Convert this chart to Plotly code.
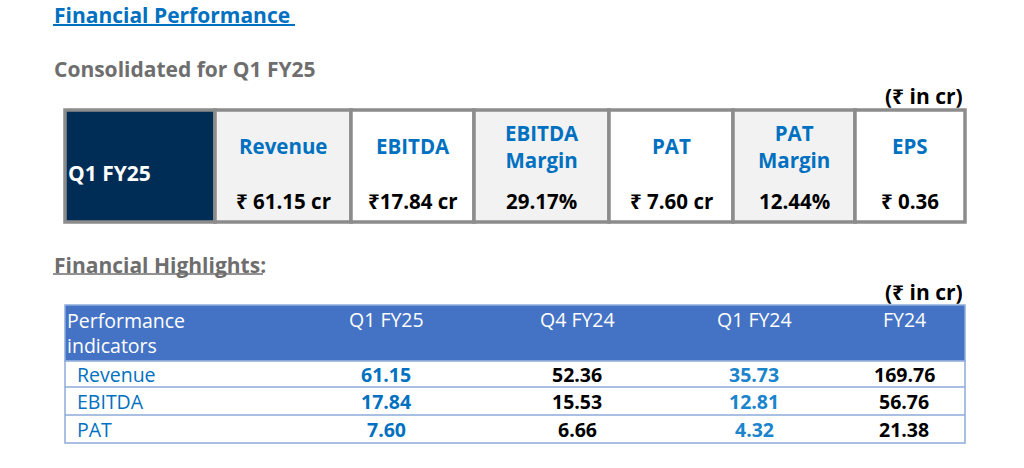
import plotly.graph_objects as go

# ---------------- data ----------------
kpi_period = "Q1 FY25"
kpi_headers = ["Revenue", "EBITDA", "EBITDA<br>Margin", "PAT", "PAT<br>Margin", "EPS"]
kpi_values = [61.15, 17.84, 29.17, 7.60, 12.44, 0.36]
kpi_formats = ["₹ {:.2f} cr", "₹{:.2f} cr", "{:.2f}%", "₹ {:.2f} cr", "{:.2f}%", "₹ {:.2f}"]

hl_columns = ["Q1 FY25", "Q4 FY24", "Q1 FY24", "FY24"]
hl_rows = ["Revenue", "EBITDA", "PAT"]
hl_q1fy25 = [61.15, 17.84, 7.60]
hl_q4fy24 = [52.36, 15.53, 6.66]
hl_q1fy24 = [35.73, 12.81, 4.32]
hl_fy24 = [169.76, 56.76, 21.38]

# ---------------- layout config ----------------
W, H = 1024, 468
FONT = "'Open Sans', 'Noto Sans', 'DejaVu Sans', sans-serif"
BLUE = "#0070C0"
GREY_TXT = "#6E6E6E"
NAVY = "#002D56"
CELL_GREY = "#F2F2F2"
BORDER = "#8C8C8C"
HDR_BLUE = "#4472C4"
LINE_BLUE = "#8EAADB"

top_edges = [65, 215, 351, 474, 609, 733, 855, 965]
top_y0, top_y1 = 110, 222
top_fills = [CELL_GREY, "white", CELL_GREY, "white", CELL_GREY, "white"]

hl_label_x = 66
hl_col_centers = [386, 577, 754, 904]
hl_x0, hl_x1 = 65, 965
hl_hdr_y0, hl_hdr_y1 = 305, 361
hl_row_edges = [361, 387, 415, 443]
hl_val_colors = [BLUE, "black", "#1A84CC", "black"]

shapes = []
ann = []

def text(x, y, s, size, color, bold=False, xanchor="center", yanchor="middle", align="center"):
    ann.append(dict(x=x, y=y, xref="x", yref="y", text=(f"<b>{s}</b>" if bold else s),
                    showarrow=False, xanchor=xanchor, yanchor=yanchor, align=align,
                    font=dict(family=FONT, size=size, color=color)))

# ---- titles ----
text(52, 15, "Financial Performance", 21, BLUE, bold=True, xanchor="left")
shapes.append(dict(type="line", x0=53, x1=295, y0=25, y1=25, line=dict(color=BLUE, width=2)))
text(52, 69, "Consolidated for Q1 FY25", 21, GREY_TXT, bold=True, xanchor="left")
text(965, 96, "(₹ in cr)", 21, "black", bold=True, xanchor="right")

# ---- KPI table ----
shapes.append(dict(type="rect", x0=top_edges[0], x1=top_edges[1], y0=top_y0, y1=top_y1,
                   fillcolor=NAVY, line=dict(color=BORDER, width=3.5), layer="below"))
text(top_edges[0] + 1, 173, kpi_period, 21, "white", bold=True, xanchor="left")
for i, (hd, v, fmt) in enumerate(zip(kpi_headers, kpi_values, kpi_formats)):
    x0, x1 = top_edges[i + 1], top_edges[i + 2]
    shapes.append(dict(type="rect", x0=x0, x1=x1, y0=top_y0, y1=top_y1,
                       fillcolor=top_fills[i], line=dict(color=BORDER, width=3.5), layer="below"))
    cx = (x0 + x1) / 2
    text(cx, 146, hd, 20.5, BLUE, bold=True)
    text(cx, 201, fmt.format(v), 20.5, "black", bold=True)

# ---- highlights ----
text(52, 265, "Financial Highlights:", 21, GREY_TXT, bold=True, xanchor="left")
shapes.append(dict(type="line", x0=53, x1=263, y0=274, y1=274, line=dict(color=GREY_TXT, width=1.5)))
text(965, 292, "(₹ in cr)", 21, "black", bold=True, xanchor="right")

shapes.append(dict(type="rect", x0=hl_x0, x1=hl_x1, y0=hl_hdr_y0, y1=hl_hdr_y1,
                   fillcolor=HDR_BLUE, line=dict(color=LINE_BLUE, width=1.5), layer="below"))
shapes.append(dict(type="rect", x0=hl_x0, x1=hl_x1, y0=hl_row_edges[0], y1=hl_row_edges[-1],
                   fillcolor="white", line=dict(color=LINE_BLUE, width=1.5), layer="below"))
for ye in hl_row_edges[1:-1]:
    shapes.append(dict(type="line", x0=hl_x0, x1=hl_x1, y0=ye, y1=ye,
                       line=dict(color=LINE_BLUE, width=1.5)))

text(hl_label_x - 1, 333, "Performance<br>indicators", 19.5, "white", xanchor="left", align="left")
for cx, c in zip(hl_col_centers, hl_columns):
    text(cx, 319, c, 19.5, "white")

series = [hl_q1fy25, hl_q4fy24, hl_q1fy24, hl_fy24]
for r, lab in enumerate(hl_rows):
    cy = (hl_row_edges[r] + hl_row_edges[r + 1]) / 2
    text(hl_label_x + 9, cy, lab, 19.5, BLUE, xanchor="left")
    for cx, s, col in zip(hl_col_centers, series, hl_val_colors):
        text(cx, cy, f"{s[r]:.2f}", 19.5, col, bold=True)

fig = go.Figure()
fig.add_trace(go.Scatter(x=[0, W], y=[0, H], mode="markers", marker=dict(opacity=0),
                         hoverinfo="skip", showlegend=False))
fig.update_layout(
    width=W, height=H, margin=dict(l=0, r=0, t=0, b=0),
    paper_bgcolor="white", plot_bgcolor="white",
    xaxis=dict(range=[0, W], visible=False, fixedrange=True),
    yaxis=dict(range=[H, 0], visible=False, fixedrange=True),
    shapes=shapes, annotations=ann, showlegend=False,
)
fig.write_html("out.html", config={"displayModeBar": False},
               post_script="document.body.style.margin='0';document.body.style.overflow='hidden';")
